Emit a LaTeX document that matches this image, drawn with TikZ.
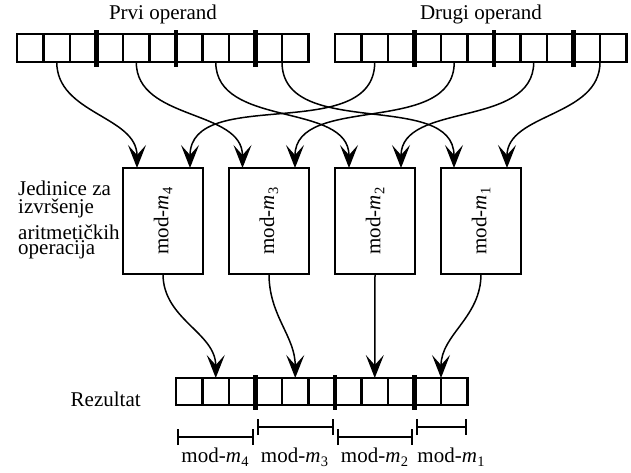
\documentclass[tikz,border=0pt]{standalone}
\usepackage{fontspec}
\setmainfont{Liberation Serif}
\usetikzlibrary{arrows.meta}
\newcommand\modm[1]{mod-\textit{m}\kern0.3pt\raisebox{-4pt}{\fontsize{14.5}{15}\selectfont #1}}
\begin{document}
\begin{tikzpicture}[x=1pt,y=1pt,
  txt/.style={inner sep=0pt,font=\fontsize{21}{22}\selectfont},
  cellbox/.style={draw,line width=2.2pt,minimum width=26.5pt,minimum height=#1,inner sep=0pt,outer sep=0pt},
  divider/.style={line width=4.8pt},
  modbox/.style={draw,line width=2pt,minimum width=80pt,minimum height=106pt,inner sep=0pt,outer sep=0pt,font=\fontsize{21}{22}\selectfont},
  conn/.style={line width=1.5pt,-{Stealth[length=23pt,width=18pt,inset=10pt]}},
  span/.style={line width=2pt,{Bar[width=16pt]}-{Bar[width=16pt]}}
]
\useasboundingbox (0,0) rectangle (631,-472);

% registers
\foreach \i in {1,...,11}{
  \node[cellbox=28pt] (A\i) at ({17+(\i-0.5)*26.5},-48) {};
  \node[cellbox=28pt] (B\i) at ({335+(\i-0.5)*26.5},-48) {};
  \node[cellbox=27pt] (R\i) at ({176+(\i-0.5)*26.5},-391.5) {};
}
\foreach \k in {3,6,9}{
  \draw[divider] ([yshift=4pt]A\k.north east) -- ([yshift=-5pt]A\k.south east);
  \draw[divider] ([yshift=4pt]B\k.north east) -- ([yshift=-5pt]B\k.south east);
  \draw[divider] ([yshift=3pt]R\k.north east) -- ([yshift=-5pt]R\k.south east);
}

% labels
\node[txt,anchor=base] (l1) at (163,-19) {Prvi operand};
\node[txt,anchor=base] (l2) at (481,-19.5) {Drugi operand};
\node[txt,anchor=base west] (j1) at (18,-195.5) {Jedinice za};
\node[txt,anchor=base west] (j2) at (18,-213) {izvršenje};
\node[txt,anchor=base west] (j3) at (18,-239.5) {aritmetičkih};
\node[txt,anchor=base west] (j4) at (18,-254.5) {operacija};
\node[txt,anchor=base west] (rz) at (70.5,-406) {Rezultat};

% modules
\node[modbox] (M4) at (163,-221) {\rotatebox{90}{\modm{4}}};
\node[modbox] (M3) at (269,-221) {\rotatebox{90}{\modm{3}}};
\node[modbox] (M2) at (375,-221) {\rotatebox{90}{\modm{2}}};
\node[modbox] (M1) at (481,-221) {\rotatebox{90}{\modm{1}}};

% inputs
\draw[conn] (A2.south) to[out=-90,in=90] ([xshift=-26pt]M4.north);
\draw[conn] (A5.south) to[out=-90,in=90] ([xshift=-26.5pt]M3.north);
\draw[conn] (A8.south) to[out=-90,in=90] ([xshift=-26pt]M2.north);
\draw[conn] (A10.south east) to[out=-90,in=90] ([xshift=-27pt]M1.north);
\draw[conn] (B2.south) to[out=-90,in=90] ([xshift=27pt]M4.north);
\draw[conn] (B5.south) to[out=-90,in=90] ([xshift=26pt]M3.north);
\draw[conn] (B8.south) to[out=-90,in=90] ([xshift=26pt]M2.north);
\draw[conn] (B10.south east) to[out=-90,in=90] ([xshift=26pt]M1.north);

% outputs
\draw[conn] (M4.south) to[out=-90,in=90] (R2.north);
\draw[conn] (M3.south) to[out=-90,in=90] (R5.north);
\draw[conn] (M2.south) -- (R8.north);
\draw[conn] (M1.south) to[out=-90,in=90] (R10.north east);

% spans
\draw[span] ([xshift=1pt,yshift=-32pt]R1.south west) -- ([xshift=-1.5pt,yshift=-32pt]R3.south east);
\draw[span] ([xshift=1.5pt,yshift=-22pt]R4.south west) -- ([xshift=-1.5pt,yshift=-22pt]R6.south east);
\draw[span] ([xshift=1.5pt,yshift=-32pt]R7.south west) -- ([xshift=-1.5pt,yshift=-32pt]R9.south east);
\draw[span] ([xshift=1.5pt,yshift=-22pt]R10.south west) -- ([xshift=-1pt,yshift=-22pt]R11.south east);

\node[txt,anchor=base] (s4) at (215,-462.5) {\modm{4}};
\node[txt,anchor=base] (s3) at (294.5,-462.5) {\modm{3}};
\node[txt,anchor=base] (s2) at (374.5,-462.5) {\modm{2}};
\node[txt,anchor=base] (s1) at (451,-462.5) {\modm{1}};
\end{tikzpicture}
\end{document}
